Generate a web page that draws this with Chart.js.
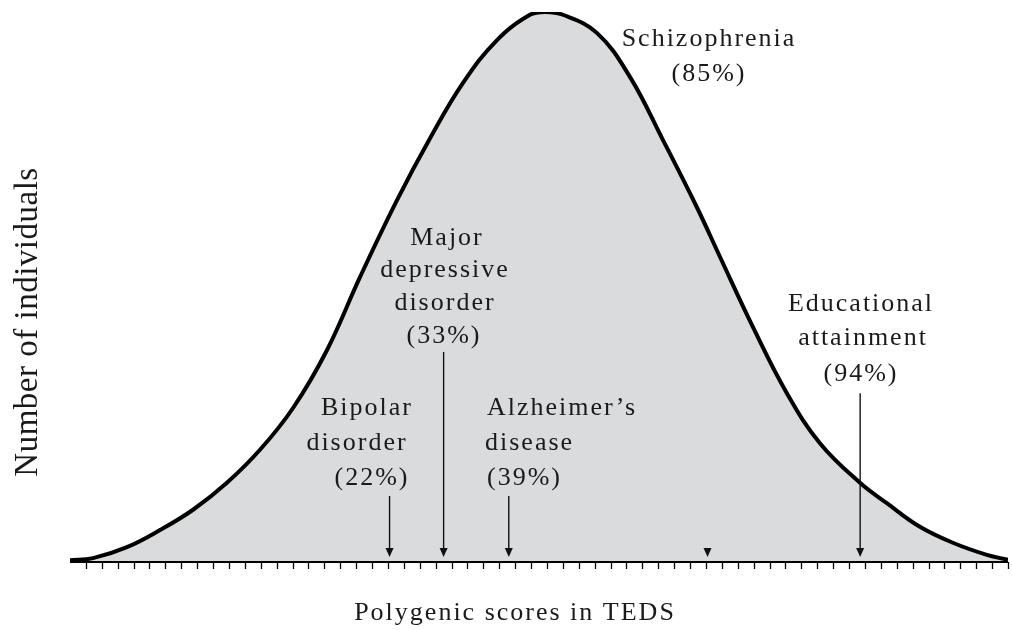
<!DOCTYPE html>
<html>
<head>
<meta charset="utf-8">
<script src="https://cdn.jsdelivr.net/npm/chart.js@4.4.1/dist/chart.umd.min.js"></script>
<style>
html,body{margin:0;padding:0;background:#fff;}
#wrap{width:1012px;height:630px;}
</style>
</head>
<body>
<div id="wrap"><canvas id="c" width="1012" height="630"></canvas></div>
<script>
// ---- data ----
const scoreX = [0, 1.45, 3.58, 5.66, 7.74, 9.87, 11.95, 14.03, 16.16, 18.24, 20.57, 22.64, 24.72, 26.86, 28.93, 29.87, 31.0, 33.14, 35.22, 37.3, 39.43, 40.88, 42.96, 45.09, 47.17, 49.69, 51.38, 53.46, 55.53, 57.67, 59];
const individuals = [0.3, 0.7, 2.7, 5.8, 9.5, 14.4, 20.4, 28.0, 38.5, 51.8, 65.8, 77.0, 87.1, 94.9, 99.5, 100, 99.5, 96.2, 88.2, 76.7, 64.5, 55.5, 42.7, 30.7, 21.6, 14.4, 10.7, 6.4, 3.5, 1.3, 0.4];
const markerNames = ["Bipolar disorder", "Major depressive disorder", "Alzheimer's disease", "Schizophrenia", "Educational attainment"];
const markerPercent = ["22%", "33%", "39%", "85%", "94%"];
const markerX = [20.1, 23.5, 27.6, 40.1, 49.7];
const markerTop = [12, 38.2, 12, 2.2, 30.7];
const tickValues = Array.from({length: 59}, (_, i) => i + 1);
const xTitle = "Polygenic scores in TEDS";
const yTitle = "Number of individuals";

// ---- label layout (pixels: text, x, baseline, align) ----
const labelLines = [
  [["Bipolar", 366, 415, 'center'], ["disorder", 356, 450, 'center'], ["(22%)", 371, 485, 'center']],
  [["Major", 446, 245, 'center'], ["depressive", 444, 277, 'center'], ["disorder", 444, 310, 'center'], ["(33%)", 443, 343, 'center']],
  [["Alzheimer\u2019s", 487, 415, 'left'], ["disease", 485, 450, 'left'], ["(39%)", 487, 485, 'left']],
  [["Schizophrenia", 708, 46, 'center'], ["(85%)", 708, 81, 'center']],
  [["Educational", 860, 311, 'center'], ["attainment", 862, 345, 'center'], ["(94%)", 860, 381, 'center']]
];

const serif = '"Liberation Serif", "Times New Roman", serif';

const overlay = {
  id: 'overlay',
  afterDatasetsDraw(chart) {
    const ctx = chart.ctx;
    const xs = chart.scales.x, ys = chart.scales.y;
    const y0 = ys.getPixelForValue(0);
    ctx.save();
    // axis line
    ctx.strokeStyle = '#000';
    ctx.lineWidth = 2.2;
    ctx.beginPath();
    ctx.moveTo(xs.getPixelForValue(0), y0);
    ctx.lineTo(xs.getPixelForValue(59), y0);
    ctx.stroke();
    // ticks
    ctx.lineWidth = 1.3;
    tickValues.forEach(v => {
      const px = Math.round(xs.getPixelForValue(v)) + 0.5;
      ctx.beginPath();
      ctx.moveTo(px, y0);
      ctx.lineTo(px, y0 + 7);
      ctx.stroke();
    });
    // arrows
    ctx.fillStyle = '#111';
    ctx.strokeStyle = '#111';
    markerX.forEach((v, i) => {
      const px = xs.getPixelForValue(v);
      const top = ys.getPixelForValue(markerTop[i]);
      const tip = y0 - 5;
      ctx.lineWidth = 1.4;
      ctx.beginPath();
      ctx.moveTo(px, top);
      ctx.lineTo(px, tip - 6);
      ctx.stroke();
      ctx.beginPath();
      ctx.moveTo(px - 4, tip - 9);
      ctx.lineTo(px + 4, tip - 9);
      ctx.lineTo(px, tip);
      ctx.closePath();
      ctx.fill();
    });
    // labels
    ctx.fillStyle = '#1a1a1a';
    ctx.font = '26px ' + serif;
    ctx.textBaseline = 'alphabetic';
    try { ctx.letterSpacing = '2px'; } catch (e) {}
    labelLines.forEach(lines => lines.forEach(([t, x, y, a]) => {
      ctx.textAlign = a;
      ctx.fillText(t, a === 'center' ? x + 1 : x, y);
    }));
    // x title
    ctx.textAlign = 'center';
    ctx.font = '26px ' + serif;
    ctx.fillText(xTitle, 515, 620);
    // y title
    try { ctx.letterSpacing = '0.5px'; } catch (e) {}
    ctx.translate(37, 322);
    ctx.rotate(-Math.PI / 2);
    ctx.font = '33px ' + serif;
    ctx.fillText(yTitle, 0, 0);
    ctx.restore();
  }
};

new Chart(document.getElementById('c'), {
  type: 'line',
  data: {
    datasets: [{
      data: scoreX.map((x, i) => ({x, y: individuals[i]})),
      borderColor: '#000',
      borderWidth: 4,
      backgroundColor: '#d9dbdc',
      fill: 'origin',
      pointRadius: 0,
      tension: 0.4
    }]
  },
  options: {
    responsive: false,
    animation: false,
    layout: {padding: {left: 70, right: 4, top: 12, bottom: 68}},
    plugins: {legend: {display: false}, tooltip: {enabled: false}},
    scales: {
      x: {type: 'linear', min: 0, max: 59, display: false},
      y: {min: 0, max: 100, display: false}
    }
  },
  plugins: [overlay]
});
</script>
</body>
</html>
